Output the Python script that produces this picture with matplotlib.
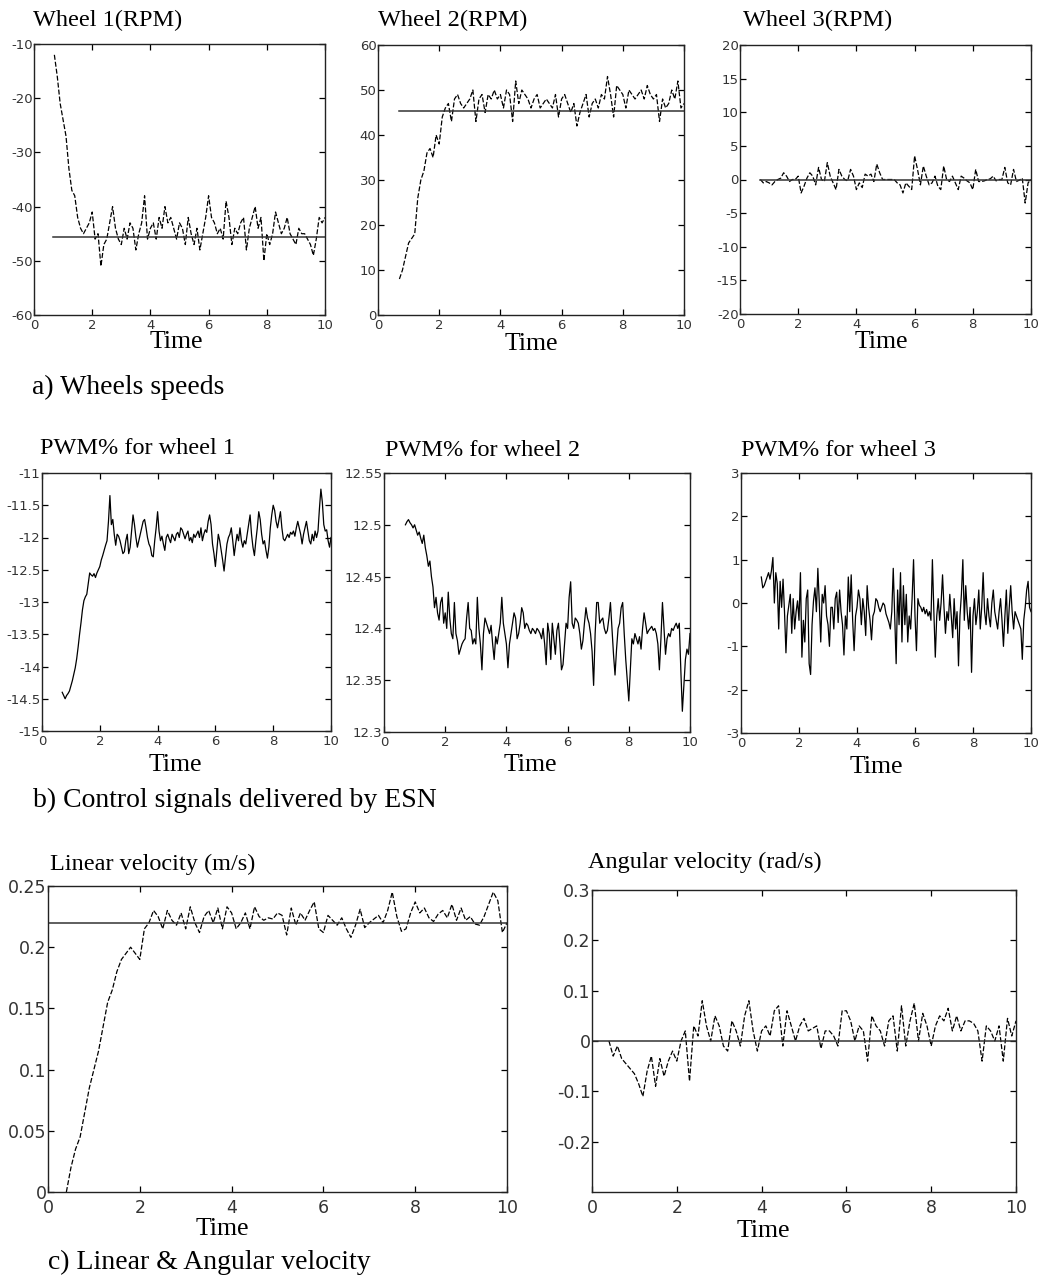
import numpy as np
import matplotlib
matplotlib.use("Agg")
import matplotlib.pyplot as plt

W, H = 1043, 1279

# ---------------- data ----------------
# wheel speeds (RPM), sampled every 0.1 s from t = 0.7 s
wheel1_t0 = 0.7
wheel1_rpm = [-12, -16, -21, -24, -27, -33, -37, -38, -42, -44, -45, -44, -43, -41, -46, -45,
              -51, -47, -46, -43, -40, -44, -46, -47, -44, -46, -43, -44, -48, -45, -43, -38,
              -46, -44, -43, -46, -42, -44, -40, -43, -42, -44, -46, -43, -44, -47, -42, -45,
              -47, -44, -48, -45, -42, -38, -42, -43, -45, -44, -46, -39, -42, -47, -44, -45,
              -43, -42, -48, -44, -42, -40, -44, -42, -50, -45, -47, -45, -41, -43, -45, -44,
              -42, -45, -46, -47, -44, -45, -45, -46, -47, -49, -46, -42, -43, -42]
wheel1_ref = -45.7

wheel2_t0 = 0.7
wheel2_rpm = [8, 10, 13, 16, 17, 18, 26, 30, 32, 36, 37, 35, 40, 38, 44, 46, 47, 43, 48, 49,
              47, 46, 47, 48, 50, 43, 48, 49, 45, 49, 48, 50, 48, 49, 46, 50, 49, 43, 52, 47,
              50, 49, 48, 46, 48, 49, 46, 47, 48, 47, 46, 49, 44, 48, 49, 47, 45, 47, 42, 45,
              47, 49, 44, 47, 48, 46, 49, 48, 53, 49, 44, 51, 50, 49, 46, 50, 49, 48, 49, 50,
              48, 51, 49, 48, 49, 43, 48, 46, 47, 50, 48, 52, 46, 47]
wheel2_ref = 45.4

wheel3_t0 = 0.7
wheel3_rpm = [0, -0.5, -0.3, -0.5, -0.8, -0.3, 0, 0.2, 1, 0.5, -0.3, 0, 0, 0.5, -2, -1,
              0.2, 1, 0.5, -0.8, 1.8, 0, -0.3, 2.5, 0.5, -0.5, -1.5, 1.5, 0.5, 0, -0.2, 1.5,
              0.5, -1.5, -0.5, -1.2, 0.8, 0.5, 0.8, -0.3, 2.3, 1, 0, 0, 0, 0, 0, -0.5,
              -0.8, -2, -0.5, -1, -1.5, 3.5, 1.5, -0.8, 2, 0.5, -0.8, -0.5, 0.5, -1, -1.5, 2,
              0, -0.3, 0.5, -0.5, -1.5, 0.5, 0.2, -0.2, -0.5, -1.5, 1.5, -0.3, -0.3, -0.2, 0, 0.1,
              0.5, -0.2, 0, 0, 1.8, -0.5, -0.8, 1.5, -0.3, -0.1, 0.2, -3.5, -0.5, 0]
wheel3_ref = 0.0

# PWM control signals (%), sampled every 0.05 s from t = 0.7 s
pwm_t0 = 0.7
pwm1 = [-14.40, -14.45, -14.50, -14.45, -14.42, -14.38,
        -14.30, -14.22, -14.12, -14.02, -13.88, -13.70, -13.50, -13.32, -13.12, -12.98,
        -12.92, -12.88, -12.72, -12.55, -12.58, -12.60, -12.56, -12.62, -12.55, -12.50,
        -12.45, -12.35, -12.28, -12.20, -12.12, -12.05, -11.75, -11.35, -11.80, -11.72,
        -11.95, -12.12, -11.95, -11.98, -12.05, -12.15, -12.25, -12.22, -12.05, -11.95,
        -12.25, -12.15, -11.90, -11.65, -11.80, -12.00, -12.15, -12.05, -11.95, -11.85,
        -11.75, -11.72, -11.85, -12.00, -12.10, -12.15, -12.28, -12.30, -12.05, -11.85,
        -11.60, -11.90, -12.05, -11.98, -12.10, -12.20, -12.00, -11.95, -12.02, -12.08,
        -11.95, -12.00, -12.05, -11.95, -11.92, -12.00, -11.85, -11.88, -11.95, -12.02,
        -11.95, -11.90, -12.05, -12.00, -12.08, -11.95, -12.00, -11.95, -11.90, -12.00,
        -11.85, -12.05, -11.95, -11.88, -11.92, -11.75, -11.65, -11.80, -12.10, -12.25,
        -12.45, -12.20, -11.95, -12.05, -12.20, -12.35, -12.52, -12.30, -12.10, -12.00,
        -11.95, -11.85, -12.05, -12.28, -12.10, -11.95, -12.05, -11.85, -12.05, -12.15,
        -12.05, -12.10, -11.95, -11.80, -11.65, -11.95, -12.15, -12.28, -12.05, -11.85,
        -11.60, -11.72, -11.95, -12.10, -12.05, -12.20, -12.32, -12.15, -11.85, -11.65,
        -11.50, -11.58, -11.75, -11.85, -11.72, -11.60, -11.85, -12.02, -12.05, -12.00,
        -11.95, -12.00, -11.92, -11.95, -11.90, -11.98, -11.85, -11.75, -11.85, -11.95,
        -12.10, -11.95, -11.85, -11.75, -11.90, -12.05, -12.10, -11.95, -12.05, -11.90,
        -12.00, -11.90, -11.55, -11.25, -11.45, -11.80, -11.90, -11.88, -12.05, -12.15,
        -12.00]

pwm2 = [12.500, 12.503, 12.505, 12.502, 12.500, 12.497,
        12.500, 12.495, 12.490, 12.493, 12.487, 12.482, 12.490, 12.478, 12.470, 12.460,
        12.465, 12.450, 12.440, 12.420, 12.430, 12.415, 12.408, 12.425, 12.430, 12.405,
        12.415, 12.400, 12.435, 12.410, 12.395, 12.390, 12.425, 12.395, 12.388, 12.375,
        12.380, 12.385, 12.388, 12.390, 12.410, 12.425, 12.400, 12.398, 12.385, 12.390,
        12.385, 12.430, 12.400, 12.385, 12.360, 12.395, 12.410, 12.405, 12.400, 12.395,
        12.403, 12.385, 12.370, 12.392, 12.385, 12.395, 12.405, 12.430, 12.405, 12.395,
        12.385, 12.362, 12.385, 12.395, 12.405, 12.415, 12.410, 12.390, 12.395, 12.405,
        12.420, 12.415, 12.400, 12.405, 12.403, 12.398, 12.395, 12.400, 12.398, 12.395,
        12.400, 12.398, 12.395, 12.390, 12.400, 12.385, 12.365, 12.405, 12.395, 12.370,
        12.405, 12.390, 12.375, 12.398, 12.405, 12.385, 12.360, 12.365, 12.385, 12.405,
        12.400, 12.430, 12.445, 12.405, 12.400, 12.410, 12.408, 12.405, 12.395, 12.380,
        12.388, 12.405, 12.420, 12.410, 12.405, 12.395, 12.378, 12.345, 12.395, 12.425,
        12.425, 12.405, 12.408, 12.410, 12.400, 12.395, 12.398, 12.410, 12.425, 12.400,
        12.375, 12.355, 12.380, 12.400, 12.405, 12.420, 12.425, 12.395, 12.370, 12.350,
        12.330, 12.360, 12.390, 12.385, 12.395, 12.390, 12.385, 12.392, 12.380, 12.400,
        12.415, 12.405, 12.395, 12.398, 12.400, 12.402, 12.398, 12.400, 12.395, 12.385,
        12.360, 12.390, 12.425, 12.400, 12.375, 12.390, 12.395, 12.392, 12.400, 12.398,
        12.402, 12.405, 12.400, 12.405, 12.360, 12.320, 12.345, 12.370, 12.380, 12.375,
        12.395]

pwm3 = [0.60, 0.35, 0.40, 0.50, 0.60, 0.70,
        0.55, 0.75, 1.05, 0.00, 0.70, 0.45, -0.60, 0.50, -0.10, 0.55,
        -0.20, -1.15, -0.30, -0.05, 0.20, -0.70, 0.10, -0.60, -0.20, 0.05,
        -0.40, 0.70, -1.25, -0.40, -0.90, 0.10, 0.30, -1.40, -1.65, -0.50,
        0.05, 0.35, -0.20, 0.80, 0.00, -0.90, 0.20, 0.00, 0.40, -0.30,
        -0.50, -1.00, -0.10, -0.10, -0.60, 0.10, 0.25, -0.45, 0.30, -0.20,
        -0.50, -1.20, -0.30, -0.60, 0.60, -0.20, 0.65, -0.40, -1.10, -0.30,
        -0.10, 0.30, 0.10, -0.50, 0.10, -0.20, -0.75, 0.40, -0.10, -0.40,
        -0.85, -0.30, -0.20, 0.10, 0.05, -0.10, -0.20, -0.10, 0.00, -0.05,
        -0.25, -0.35, -0.45, -0.60, -0.20, 0.80, -0.30, -1.40, 0.30, -0.50,
        0.70, -0.90, 0.40, -0.50, 0.20, -0.90, -0.30, -0.60, 0.10, 1.00,
        -0.30, -1.10, 0.10, -0.05, -0.10, -0.20, -0.10, -0.25, -0.15, -0.30,
        -0.20, -0.40, 1.00, -0.20, -1.25, -0.30, 0.10, -0.40, 0.00, 0.65,
        -0.10, -0.70, -0.20, -0.40, 0.20, -0.30, -0.80, 0.10, -0.60, -0.20,
        -1.45, -0.30, 0.20, 1.00, -0.40, 0.40, -0.20, -0.60, -0.10, -1.60,
        -0.30, 0.10, -0.50, -0.20, 0.30, -0.60, -0.10, 0.70, -0.20, -0.50,
        0.10, -0.30, -0.55, 0.00, 0.30, -0.20, -0.40, -0.60, -0.20, 0.10,
        -0.40, -1.00, -0.30, 0.30, -0.70, -0.10, 0.40, -0.20, -0.60, -0.20,
        -0.30, -0.40, -0.50, -0.60, -1.30, -0.40, -0.10, 0.30, 0.50, -0.10,
        -0.20]

# robot velocities, sampled every 0.1 s from t = 0.4 s
vel_t0 = 0.4
linear_vel = [0.000, 0.020, 0.035, 0.045, 0.065, 0.085, 0.100, 0.115, 0.135, 0.155,
              0.165, 0.180, 0.190, 0.195, 0.200, 0.195, 0.190, 0.215, 0.220, 0.230,
              0.225, 0.215, 0.230, 0.222, 0.218, 0.228, 0.215, 0.233, 0.220, 0.212,
              0.225, 0.230, 0.220, 0.232, 0.215, 0.233, 0.228, 0.215, 0.220, 0.228,
              0.215, 0.233, 0.225, 0.222, 0.224, 0.223, 0.228, 0.226, 0.210, 0.232,
              0.218, 0.228, 0.222, 0.230, 0.237, 0.215, 0.212, 0.226, 0.222, 0.218,
              0.224, 0.215, 0.208, 0.218, 0.231, 0.216, 0.220, 0.223, 0.226, 0.220,
              0.230, 0.245, 0.225, 0.213, 0.215, 0.228, 0.237, 0.228, 0.232, 0.224,
              0.221, 0.227, 0.230, 0.224, 0.235, 0.222, 0.232, 0.222, 0.225, 0.219,
              0.218, 0.225, 0.235, 0.245, 0.238, 0.212, 0.220]
linear_ref = 0.22

angular_vel = [0.000, -0.030, -0.010, -0.035, -0.045, -0.055, -0.065, -0.085, -0.110, -0.060,
               -0.030, -0.090, -0.035, -0.070, -0.040, -0.020, -0.040, 0.000, 0.020, -0.080,
               0.030, 0.010, 0.080, 0.030, 0.000, 0.050, 0.030, -0.010, -0.020, 0.040,
               0.020, -0.010, 0.050, 0.080, 0.020, -0.020, 0.020, 0.030, 0.010, 0.060,
               0.070, -0.010, 0.060, 0.030, 0.000, 0.030, 0.045, 0.020, 0.025, 0.030,
               -0.015, 0.020, 0.020, 0.010, -0.010, 0.060, 0.060, 0.040, 0.000, 0.030,
               0.020, -0.040, 0.050, 0.030, 0.020, -0.010, 0.040, 0.050, -0.020, 0.070,
               -0.010, 0.040, 0.075, 0.000, 0.055, 0.030, -0.010, 0.030, 0.050, 0.040,
               0.065, 0.020, 0.050, 0.020, 0.040, 0.040, 0.035, 0.020, -0.040, 0.030,
               0.020, 0.000, 0.030, -0.040, 0.045, 0.010, 0.040]
angular_ref = 0.0

t_end = 10.0

# ---------------- styling ----------------
SERIF = ["Liberation Serif", "DejaVu Serif"]
SANS = ["DejaVu Sans"]
DASH = (0, (4.0, 1.6))
TITLE_PT = 17.5
TIME_PT = 18.5
CAPTION_PT = 20
SMALL_TICK_PT = 9.5
BIG_TICK_PT = 12.5

fig = plt.figure(figsize=(W / 100, H / 100), dpi=100)
fig.patch.set_facecolor("white")


def axes_px(left, top, right, bottom):
    return fig.add_axes([left / W, 1 - bottom / H, (right - left) / W, (bottom - top) / H])


def ftext(x, y, s, size, ha="left"):
    fig.text(x / W, 1 - y / H, s, fontsize=size, family=SERIF, ha=ha, va="center", color="black")


def style(ax, ylim, yticks, ylabels, tick_size, xpad=3):
    ax.set_xlim(0, 10)
    ax.set_ylim(*ylim)
    ax.set_xticks(range(0, 11, 2))
    ax.set_xticklabels([str(v) for v in range(0, 11, 2)])
    ax.set_yticks(yticks)
    ax.set_yticklabels(ylabels)
    ax.tick_params(direction="in", length=4, width=0.9, top=True, right=True,
                   labelsize=tick_size, colors="black", labelcolor="#333333")
    ax.tick_params(axis="y", pad=1)
    ax.tick_params(axis="x", pad=xpad)
    for lab in ax.get_xticklabels() + ax.get_yticklabels():
        lab.set_family(SANS)
    for sp in ax.spines.values():
        sp.set_linewidth(1.0)
        sp.set_color("#222222")


def times(t0, values, step):
    return t0 + step * np.arange(len(values))


# ---------------- row a: wheel speeds ----------------
ax = axes_px(34, 44, 325, 315)
tt = times(wheel1_t0, wheel1_rpm, 0.1)
ax.plot(tt, wheel1_rpm, color="black", lw=0.9, ls=DASH)
ax.plot([wheel1_t0 - 0.05, t_end], [wheel1_ref] * 2, color="#333333", lw=1.1)
style(ax, (-60, -10), range(-60, -9, 10), [str(v) for v in range(-60, -9, 10)], SMALL_TICK_PT)

ax = axes_px(378, 45, 684, 315)
tt = times(wheel2_t0, wheel2_rpm, 0.1)
ax.plot(tt, wheel2_rpm, color="black", lw=0.9, ls=DASH)
ax.plot([wheel2_t0, t_end], [wheel2_ref] * 2, color="#333333", lw=1.1)
style(ax, (0, 60), range(0, 61, 10), [str(v) for v in range(0, 61, 10)], SMALL_TICK_PT)

ax = axes_px(740, 45, 1031, 314)
tt = times(wheel3_t0, wheel3_rpm, 0.1)
ax.plot(tt, wheel3_rpm, color="black", lw=0.9, ls=DASH)
ax.plot([wheel3_t0, t_end], [wheel3_ref] * 2, color="#333333", lw=1.1)
style(ax, (-20, 20), range(-20, 21, 5), [str(v) for v in range(-20, 21, 5)], SMALL_TICK_PT)

ftext(33, 20, "Wheel 1(RPM)", TITLE_PT)
ftext(378, 20, "Wheel 2(RPM)", TITLE_PT)
ftext(743, 20, "Wheel 3(RPM)", TITLE_PT)
ftext(176, 342, "Time", TIME_PT, ha="center")
ftext(531, 344, "Time", TIME_PT, ha="center")
ftext(881, 342, "Time", TIME_PT, ha="center")
ftext(32, 387, "a) Wheels speeds", CAPTION_PT)

# ---------------- row b: PWM control signals ----------------
ax = axes_px(42, 473, 331, 731)
tt = times(pwm_t0, pwm1, 0.05)
ax.plot(tt, pwm1, color="black", lw=0.9)
ticks = [-15 + 0.5 * i for i in range(9)]
style(ax, (-15, -11), ticks, ["-15", "-14.5", "-14", "-13.5", "-13", "-12.5", "-12", "-11.5", "-11"],
      SMALL_TICK_PT)

ax = axes_px(384, 473, 690, 732)
tt = times(pwm_t0, pwm2, 0.05)
ax.plot(tt, pwm2, color="black", lw=0.9)
ticks = [12.3 + 0.05 * i for i in range(6)]
style(ax, (12.3, 12.55), ticks, ["12.3", "12.35", "12.4", "12.45", "12.5", "12.55"], SMALL_TICK_PT)

ax = axes_px(741, 473, 1031, 733)
tt = times(pwm_t0, pwm3, 0.05)
ax.plot(tt, pwm3, color="black", lw=0.9)
style(ax, (-3, 3), range(-3, 4), [str(v) for v in range(-3, 4)], SMALL_TICK_PT)

ftext(40, 448, "PWM% for wheel 1", TITLE_PT)
ftext(385, 450, "PWM% for wheel 2", TITLE_PT)
ftext(741, 450, "PWM% for wheel 3", TITLE_PT)
ftext(175, 765, "Time", TIME_PT, ha="center")
ftext(530, 765, "Time", TIME_PT, ha="center")
ftext(876, 767, "Time", TIME_PT, ha="center")
ftext(33, 800, "b) Control signals delivered by ESN", CAPTION_PT)

# ---------------- row c: robot velocities ----------------
ax = axes_px(48, 886, 507, 1192)
tt = times(vel_t0, linear_vel, 0.1)
ax.plot(tt, linear_vel, color="black", lw=0.9, ls=DASH)
ax.plot([0, t_end], [linear_ref] * 2, color="#333333", lw=1.1)
ticks = [0.05 * i for i in range(6)]
style(ax, (0, 0.25), ticks, ["0", "0.05", "0.1", "0.15", "0.2", "0.25"], BIG_TICK_PT, xpad=5)

ax = axes_px(592, 890, 1016, 1192)
tt = times(vel_t0, angular_vel, 0.1)
ax.plot(tt, angular_vel, color="black", lw=0.9, ls=DASH)
ax.plot([0, t_end], [angular_ref] * 2, color="#333333", lw=1.1)
ticks = [-0.2, -0.1, 0, 0.1, 0.2, 0.3]
style(ax, (-0.3, 0.3), ticks, ["-0.2", "-0.1", "0", "0.1", "0.2", "0.3"], BIG_TICK_PT, xpad=5)

ftext(50, 864, "Linear velocity (m/s)", TITLE_PT)
ftext(588, 862, "Angular velocity (rad/s)", TITLE_PT)
ftext(222, 1229, "Time", TIME_PT, ha="center")
ftext(763, 1231, "Time", TIME_PT, ha="center")
ftext(48, 1262, "c) Linear & Angular velocity", CAPTION_PT)

fig.savefig("out.png", dpi=100, facecolor="white")
